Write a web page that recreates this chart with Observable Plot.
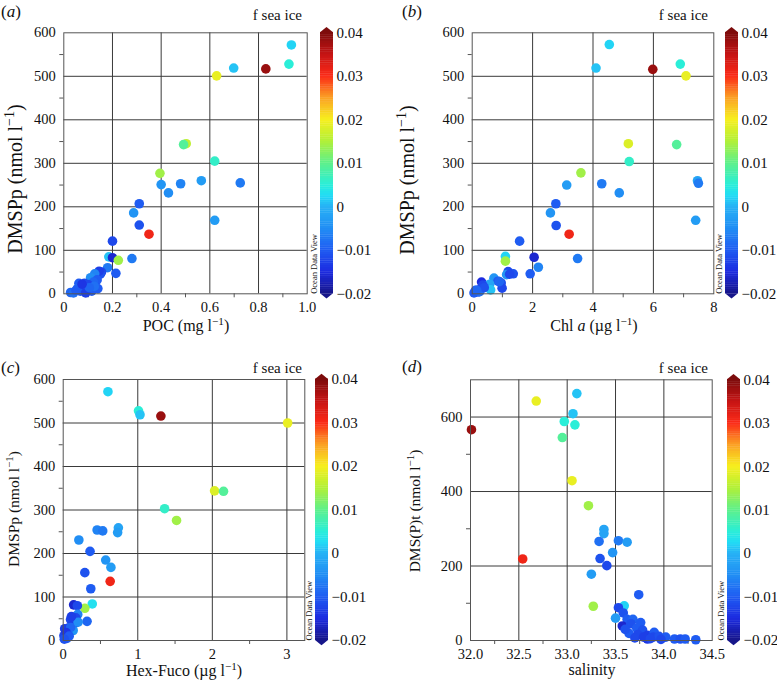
<!DOCTYPE html>
<html><head><meta charset="utf-8">
<script src="https://cdn.jsdelivr.net/npm/d3@7"></script>
<script src="https://cdn.jsdelivr.net/npm/@observablehq/plot@0.6"></script>
<style>
body{margin:0;background:#fff;}
#root{position:relative;width:777px;height:680px;overflow:hidden;background:#fff;}
#root svg{position:absolute;}
#root svg text, #root svg tspan{font-family:"Liberation Serif","Times New Roman",serif !important;}
</style></head><body><div id="root"></div>
<script>
// ---------- Panel (a): POC vs DMSPp ----------
const pocA = [0.935,0.925,0.83,0.698,0.628,0.503,0.492,0.62,0.395,0.40,0.43,0.48,0.565,0.725,0.62,0.31,0.287,0.31,0.35,0.20,0.185,0.20,0.224,0.28,0.214,0.18,0.155,0.15,0.145,0.127,0.11,0.137,0.122,0.062,0.10,0.078,0.14,0.056,0.028,0.068,0.095,0.115,0.04,0.125,0.085,0.05,0.09,0.105,0.075];
const dmsppA = [572,528,517,519,501,345,343,305,277,251,232,253,260,255,169,207,186,158,137,121,85,83,77,81,47,60,50,45,52,46,37,32,27,24,21,16,12,12,3,6,8,6,2,17,24,8,2,14,22];
const iceA = [0.002,0.005,0.038,0.001,0.019,0.016,0.009,0.006,0.014,-0.004,-0.005,-0.006,-0.003,-0.007,-0.003,-0.01,-0.004,-0.011,0.031,-0.012,0.001,-0.016,0.014,-0.007,-0.01,-0.007,-0.012,-0.011,-0.013,-0.006,-0.005,-0.01,-0.009,-0.01,-0.012,-0.011,-0.01,-0.009,-0.009,-0.01,-0.011,-0.01,-0.008,-0.008,-0.012,-0.01,-0.013,-0.009,-0.014];

// ---------- Panel (b): Chl a vs DMSPp ----------
const chlB = [4.54,4.1,5.98,6.89,7.08,5.17,6.77,5.2,3.6,3.13,4.29,4.87,7.46,7.49,7.4,2.77,2.59,2.78,3.21,1.57,1.10,1.10,2.05,3.49,2.19,1.92,1.19,1.14,1.36,1.24,0.72,0.85,0.96,0.99,0.31,0.46,0.58,0.61,0.28,0.11,0.19,0.06,0.35,0.9,0.25,0.4,0.15];
const dmsppB = [573,519,516,528,501,345,343,304,278,250,253,232,260,254,169,207,186,157,137,121,86,75,84,81,61,46,51,44,46,45,36,29,25,13,27,19,22,9,11,8,4,2,20,28,5,14,8];
const iceB = [0.002,0.001,0.038,0.005,0.019,0.018,0.009,0.006,0.014,-0.003,-0.007,-0.005,-0.002,-0.007,-0.003,-0.01,-0.004,-0.011,0.031,-0.01,0.002,0.014,-0.016,-0.007,-0.006,-0.01,-0.012,-0.004,-0.011,-0.012,-0.004,-0.01,-0.011,-0.012,-0.015,-0.009,-0.002,0.001,-0.013,-0.01,-0.011,-0.01,-0.012,-0.009,-0.008,-0.011,-0.009];

// ---------- Panel (c): Hex-Fuco vs DMSPp ----------
const hexC = [0.60,1.01,1.03,1.31,3.01,2.03,2.15,1.36,1.52,0.455,0.53,0.74,0.73,0.21,0.36,0.57,0.64,0.29,0.63,0.37,0.39,0.29,0.14,0.19,0.195,0.32,0.098,0.14,0.16,0.12,0.075,0.134,0.03,0.01,0.05,0.02,0.06,0.1,0.04,0.08,0.015,0.17,0.2,0.11];
const dmsppC = [572,528,519,516,500,344,343,303,276,254,252,259,248,231,205,185,168,156,136,119,84,74,82,80,60,44,48,46,40,35,29,23,23,11,5,27,16,30,18,10,3,52,42,55];
const iceC = [0.002,0.005,0.001,0.038,0.019,0.018,0.009,0.006,0.014,-0.006,-0.007,-0.002,-0.003,-0.005,-0.01,-0.004,-0.003,-0.011,0.031,-0.01,0.003,0.014,-0.016,-0.012,-0.006,-0.009,-0.012,-0.011,-0.01,-0.013,-0.011,-0.004,-0.01,-0.012,-0.01,-0.013,-0.011,-0.009,-0.014,-0.01,-0.011,-0.012,-0.005,-0.013];

// ---------- Panel (d): salinity vs DMS(P)t ----------
const salD = [33.10,32.68,33.06,32.97,33.08,32.01,32.95,33.05,33.22,33.38,33.38,33.53,33.62,33.33,33.47,33.34,32.54,33.41,33.25,33.74,33.27,33.59,33.53,33.58,33.50,33.62,33.68,33.57,33.76,33.66,33.72,33.78,33.64,33.73,33.83,33.90,33.89,33.95,34.02,33.83,33.97,34.11,34.17,34.22,34.33,33.70,33.79,33.60,33.86];
const dmsptD = [663,643,609,588,579,566,545,429,362,298,287,268,264,266,236,220,219,201,178,123,92,93,88,74,60,57,57,39,48,45,33,28,19,16,14,22,9,11,9,4,3,4,4,4,2,7,9,30,5];
const iceD = [0.001,0.019,0.001,0.005,0.005,0.038,0.009,0.019,0.014,-0.002,-0.002,-0.007,-0.003,-0.008,-0.004,-0.011,0.031,-0.012,-0.003,-0.01,0.014,0.002,-0.012,-0.011,-0.003,-0.01,-0.009,-0.016,-0.01,-0.011,-0.01,-0.011,-0.01,-0.012,-0.013,-0.01,-0.012,-0.011,-0.01,-0.014,-0.012,-0.01,-0.011,-0.01,-0.01,-0.012,-0.013,-0.011,-0.012];

// ---------- Colour bar ----------
const iceTicks = [-0.02,-0.01,0,0.01,0.02,0.03,0.04];
const iceStops = [-0.02,-0.015,-0.01,-0.005,0,0.0025,0.005,0.01,0.015,0.02,0.025,0.03,0.035,0.04];
const iceColors = ["#17168a","#1c2be0","#1f5cf2","#218ef4","#27b2f5","#21dcf5","#2aeed8","#5ef08a","#b2f038","#f7ef1e","#fba024","#fb2a18","#c51414","#7c0c0c"];

const FONT = "Liberation Serif, Times New Roman, serif";
const colorOpts = {type: "linear", domain: iceStops, range: iceColors, clamp: true};
const root = document.getElementById("root");
const minus = s => s.replace("-", "\u2212");

function place(svg, left, top) {
  svg.style.left = left + "px";
  svg.style.top = top + "px";
  root.appendChild(svg);
}

function makePanel(o) {
  const idx = d3.range(o.X.length);
  const svg = Plot.plot({
    width: o.w, height: o.h,
    marginLeft: o.ml, marginRight: o.mr, marginTop: o.mt, marginBottom: o.mb,
    style: {fontFamily: FONT, fontSize: "14.5px", color: "#111", background: "none", overflow: "visible"},
    x: {domain: o.xDomain},
    y: {domain: o.yDomain},
    color: colorOpts,
    marks: [
      Plot.gridX(o.xGrid, {stroke: "#3a3a3a", strokeOpacity: 1, strokeWidth: 1}),
      Plot.gridY(o.yGrid, {stroke: "#3a3a3a", strokeOpacity: 1, strokeWidth: 1}),
      Plot.axisX(o.xTicks, {tickSize: 0, tickPadding: 8, tickFormat: o.xFmt, label: null, fontFamily: FONT}),
      Plot.axisX(o.xMinor, {tickSize: 4, tickFormat: () => "", label: null, stroke: "#555"}),
      Plot.axisY(o.yTicks, {tickSize: 0, tickPadding: 8, label: null, fontFamily: FONT}),
      Plot.axisY(o.yMinor, {tickSize: 4, tickFormat: () => "", label: null, stroke: "#555"}),
      Plot.dot(idx, {x: i => o.X[i], y: i => o.Y[i], fill: i => o.C[i], r: 4.8}),
      Plot.frame({stroke: "#555"})
    ]
  });
  place(svg, o.left, o.top);
}

function makeBar(o) {
  const steps = d3.range(0, 120).map(i => -0.02 + i * 0.0005);
  const cap = 0.0012;
  const topCap = [{x: 0, y1: 0.04, y2: 0.04}, {x: 0.5, y1: 0.04, y2: 0.04 + cap}, {x: 1, y1: 0.04, y2: 0.04}];
  const botCap = [{x: 0, y1: -0.02, y2: -0.02}, {x: 0.5, y1: -0.02, y2: -0.02 - cap}, {x: 1, y1: -0.02, y2: -0.02}];
  const svg = Plot.plot({
    width: 80, height: o.h,
    marginLeft: 20, marginRight: 80 - 20 - 13, marginTop: o.mt, marginBottom: o.mb,
    style: {fontFamily: FONT, fontSize: "15px", color: "#111", background: "none", overflow: "visible"},
    x: {domain: [0, 1], axis: null},
    y: {domain: [-0.02, 0.04], axis: null},
    color: colorOpts,
    marks: [
      Plot.rect(steps, {x1: 0, x2: 1, y1: d => d, y2: d => d + 0.00058, fill: d => d + 0.00025}),
      Plot.area(topCap, {x1: "x", y1: "y1", y2: "y2", fill: "#7c0c0c"}),
      Plot.area(botCap, {x1: "x", y1: "y1", y2: "y2", fill: "#17168a"}),
      Plot.axisY(iceTicks, {anchor: "right", tickSize: 0, tickPadding: 3, label: null, fontFamily: FONT,
        tickFormat: d => d === 0 ? "0" : minus(d.toFixed(2))}),
      Plot.text(["Ocean Data View"], {x: 0, y: -0.02, dx: -6.5, rotate: -90, textAnchor: "start", fontSize: 8.5, fontFamily: FONT})
    ]
  });
  place(svg, o.left, o.top);
}

const fmt1 = d => d === 0 ? "0" : d.toFixed(1);
const fmt0 = d => String(d);

// (a)
makePanel({left: 0, top: 0, w: 390, h: 340, ml: 63.3, mr: 83.3, mt: 32.3, mb: 46.7,
  xDomain: [0, 1], yDomain: [0, 600],
  xGrid: [0.2, 0.4, 0.6, 0.8], yGrid: [100, 200, 300, 400, 500],
  xTicks: [0, 0.2, 0.4, 0.6, 0.8, 1.0], xMinor: [0.1, 0.3, 0.5, 0.7, 0.9], xFmt: fmt1,
  yTicks: [0, 100, 200, 300, 400, 500, 600], yMinor: [50, 150, 250, 350, 450, 550],
  X: pocA, Y: dmsppA, C: iceA});
makeBar({left: 300, top: 0, h: 340, mt: 32.3, mb: 46.7});

// (b)
makePanel({left: 390, top: 0, w: 387, h: 340, ml: 81.7, mr: 63.7, mt: 32.3, mb: 46.7,
  xDomain: [0, 8], yDomain: [0, 600],
  xGrid: [2, 4, 6], yGrid: [100, 200, 300, 400, 500],
  xTicks: [0, 2, 4, 6, 8], xMinor: [1, 3, 5, 7], xFmt: fmt0,
  yTicks: [0, 100, 200, 300, 400, 500, 600], yMinor: [50, 150, 250, 350, 450, 550],
  X: chlB, Y: dmsppB, C: iceB});
makeBar({left: 705, top: 0, h: 340, mt: 32.3, mb: 46.7});

// (c)
makePanel({left: 0, top: 340, w: 390, h: 340, ml: 62.7, mr: 85.7, mt: 39, mb: 40,
  xDomain: [0, 3.24], yDomain: [0, 600],
  xGrid: [1, 2, 3], yGrid: [100, 200, 300, 400, 500],
  xTicks: [0, 1, 2, 3], xMinor: [0.5, 1.5, 2.5], xFmt: fmt0,
  yTicks: [0, 100, 200, 300, 400, 500, 600], yMinor: [50, 150, 250, 350, 450, 550],
  X: hexC, Y: dmsppC, C: iceC});
makeBar({left: 295, top: 340, h: 340, mt: 39, mb: 40});

// (d)
makePanel({left: 390, top: 340, w: 387, h: 340, ml: 80, mr: 65.3, mt: 39.3, mb: 40,
  xDomain: [32, 34.5], yDomain: [0, 700],
  xGrid: [32.5, 33, 33.5, 34], yGrid: [200, 400, 600],
  xTicks: [32, 32.5, 33, 33.5, 34, 34.5], xMinor: [32.25, 32.75, 33.25, 33.75, 34.25], xFmt: d => d.toFixed(1),
  yTicks: [0, 200, 400, 600], yMinor: [100, 300, 500],
  X: salD, Y: dmsptD, C: iceD});
makeBar({left: 706.7, top: 340, h: 340, mt: 39.3, mb: 40});

// ---------- Text overlay ----------
const ov = d3.select(root).append("svg")
  .attr("width", 777).attr("height", 680)
  .style("left", "0px").style("top", "0px").style("pointer-events", "none")
  .attr("font-family", FONT).attr("fill", "#111");

function rich(t, parts) {
  parts.forEach(p => {
    const s = t.append("tspan").text(p.t);
    if (p.i) s.attr("font-style", "italic");
    if (p.sup) s.attr("font-size", "0.7em").attr("dy", "-0.55em");
    if (p.down) s.attr("dy", p.down);
  });
  return t;
}
function label(x, y, size, anchor, parts, rot) {
  const t = ov.append("text").attr("font-size", size).attr("text-anchor", anchor);
  if (rot) t.attr("transform", `translate(${x},${y}) rotate(-90)`).attr("dy", "0.35em");
  else t.attr("x", x).attr("y", y);
  return rich(t, parts);
}
const unitN = [{t: " (nmol l"}, {t: "\u22121", sup: true}, {t: ")", down: "0.385em"}];
const unitU = [{t: " (\u00b5g l"}, {t: "\u22121", sup: true}, {t: ")", down: "0.385em"}];

// (a)
label(1, 17, 17, "start", [{t: "("}, {t: "a", i: true}, {t: ")"}]);
label(302, 20, 15, "end", [{t: "f sea ice"}]);
label(186, 331, 16, "middle", [{t: "POC (mg l"}, {t: "\u22121", sup: true}, {t: ")", down: "0.385em"}]);
label(15, 179, 20, "middle", [{t: "DMSPp"}, ...unitN], true);
// (b)
label(402, 17, 17, "start", [{t: "("}, {t: "b", i: true}, {t: ")"}]);
label(708, 20, 15, "end", [{t: "f sea ice"}]);
label(594, 331, 16, "middle", [{t: "Chl "}, {t: "a", i: true}, ...unitU]);
label(407, 180, 20, "middle", [{t: "DMSPp"}, ...unitN], true);
// (c)
label(1, 373, 17, "start", [{t: "("}, {t: "c", i: true}, {t: ")"}]);
label(302, 373, 15, "end", [{t: "f sea ice"}]);
label(184, 676, 16, "middle", [{t: "Hex-Fuco"}, ...unitU]);
label(14, 509, 15.5, "middle", [{t: "DMSPp"}, ...unitN], true);
// (d)
label(402, 372, 17, "start", [{t: "("}, {t: "d", i: true}, {t: ")"}]);
label(708, 373, 15, "end", [{t: "f sea ice"}]);
label(592, 675, 16, "middle", [{t: "salinity"}]);
label(415, 511, 15.5, "middle", [{t: "DMS(P)t"}, ...unitN], true);
</script></body></html>
